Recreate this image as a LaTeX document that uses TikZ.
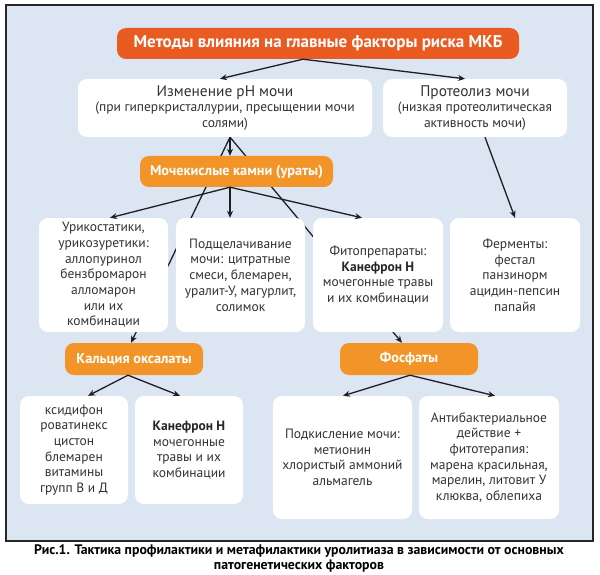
\documentclass[tikz,border=0pt]{standalone}
\usepackage{fontspec}
\setmainfont{PT Sans}
\usetikzlibrary{arrows.meta,calc}
\definecolor{bgblue}{HTML}{DCE6F2}
\definecolor{orA}{HTML}{EA5B22}
\definecolor{orB}{HTML}{F39428}
\definecolor{txt}{HTML}{333333}
\definecolor{arrc}{HTML}{1E1E28}
\pgfdeclarelayer{bg}
\pgfdeclarelayer{mid}
\pgfsetlayers{bg,mid,main}
\begin{document}
\begin{tikzpicture}[x=1pt,y=-1pt,
  wbox/.style={fill=white, rounded corners=9pt, inner sep=0pt, align=center, text=txt,
    font=\fontsize{13.5}{15.7}\selectfont},
  obox/.style={fill=orB, rounded corners=9pt, inner sep=0pt, text=white,
    font=\bfseries\fontsize{14.3}{16}\selectfont},
  arr/.style={-{Stealth[length=7pt,width=6pt]}, line width=1.3pt, draw=arrc},
  big/.style={font=\fontsize{15}{16}\selectfont}]
\useasboundingbox (0,0) rectangle (600,575);
\begin{pgfonlayer}{bg}
\draw[fill=bgblue, draw=black!85, line width=1.1pt] (6,5) rectangle (593,541);
\end{pgfonlayer}

\node[obox, fill=orA, minimum width=402pt, minimum height=31pt,
  font=\bfseries\fontsize{17}{18}\selectfont] (title) at (318,43.5)
  {Методы влияния на главные факторы риска МКБ};

\node[wbox, minimum width=294pt, minimum height=58pt] (izm) at (225,108)
  {{\fontsize{15.4}{15.7}\selectfont Изменение pH мочи}\\(при гиперкристаллурии, пресыщении мочи\\солями)};
\node[wbox, minimum width=184pt, minimum height=58pt] (prot) at (475,108)
  {{\fontsize{15.4}{15.7}\selectfont Протеолиз мочи}\\(низкая протеолитическая\\активность мочи)};

\node[obox, minimum width=193pt, minimum height=31pt] (moch) at (236.5,171.5)
  {Мочекислые камни (ураты)};

\node[wbox, minimum width=129pt, minimum height=114pt] (uri) at (103.5,275)
  {Урикостатики,\\урикозуретики:\\аллопуринол\\бензбромарон\\алломарон\\или их\\комбинации};
\node[wbox, minimum width=129pt, minimum height=114pt] (pods) at (240.5,275)
  {Подщелачивание\\мочи: цитратные\\смеси, блемарен,\\уралит-У, магурлит,\\солимок};
\node[wbox, minimum width=130pt, minimum height=114pt] (fito) at (378,275)
  {Фитопрепараты:\\\textbf{\color{black!85}Канефрон Н}\\мочегонные травы\\и их комбинации};
\node[wbox, minimum width=130pt, minimum height=114pt] (ferm) at (515,275)
  {Ферменты:\\фестал\\панзинорм\\ацидин-пепсин\\папайя};

\node[obox, minimum width=138pt, minimum height=32pt] (kal) at (134,359)
  {Кальция оксалаты};
\node[obox, minimum width=138pt, minimum height=32pt] (fos) at (409,359)
  {Фосфаты};

\node[wbox, minimum width=108pt, minimum height=108pt] (ksid) at (74,450)
  {ксидифон\\роватинекс\\цистон\\блемарен\\витамины\\групп В и Д};
\node[wbox, minimum width=108pt, minimum height=108pt] (kan) at (189,450)
  {\textbf{\color{black!85}Канефрон Н}\\мочегонные\\травы и их\\комбинации};
\node[wbox, minimum width=139pt, minimum height=123pt] (podk) at (342.5,457.5)
  {Подкисление мочи:\\метионин\\хлористый аммоний\\альмагель};
\node[wbox, minimum width=140pt, minimum height=123pt] (anti) at (489,457.5)
  {Антибактериальное\\действие +\\фитотерапия:\\марена красильная,\\марелин, литовит У\\клюква, облепиха};

\node[align=center, text=black, font=\bfseries\fontsize{13.8}{15}\selectfont] (cap) at (299,558.5)
  {Рис.1. Тактика профилактики и метафилактики уролитиаза в зависимости от основных\\патогенетических факторов};

% connector anchors
\coordinate (ts) at ($(title.south)+(-15,0)$);
\coordinate (izmb) at ($(izm.south)+(5,0)$);
\coordinate (mochb) at ($(moch.south)+(-6.5,0)$);
\coordinate (protb) at ($(prot.south)+(10,0)$);
\coordinate (kalb) at ($(kal.south)+(-6,0)$);
\coordinate (fosb) at ($(fos.south)+(1,0)$);

\begin{pgfonlayer}{mid}
\draw[arr] (izmb) -- ($(kal.north)+(-3,0)$);
\draw[arr] (izmb) -- ($(fos.north)+(-7,0)$);
\end{pgfonlayer}

\draw[arr] (ts) -- ($(izm.north)+(-5,0)$);
\draw[arr] (ts) -- ($(prot.north)+(-10,0)$);
\draw[arr] (izmb) -- (izmb |- moch.north);
\draw[arr] (protb) -- (ferm.north);
\draw[arr] (mochb) -- ($(uri.north)+(6.5,0)$);
\draw[arr] (mochb) -- (mochb |- pods.north);
\draw[arr] (mochb) -- ($(fito.north)+(-16,0)$);
\draw[arr] (kalb) -- ($(ksid.north)+(14,0)$);
\draw[arr] (kalb) -- ($(kan.north)+(-9,0)$);
\draw[arr] (fosb) -- ($(podk.north)+(0.5,0)$);
\draw[arr] (fosb) -- ($(anti.north)+(6,0)$);
\end{tikzpicture}
\end{document}
